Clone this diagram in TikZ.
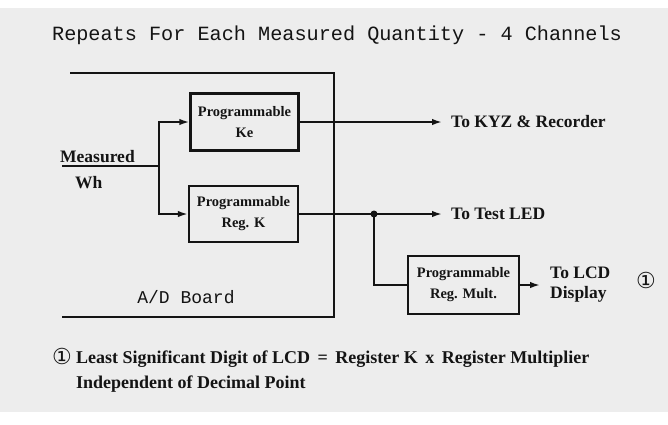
\documentclass[tikz,border=0pt]{standalone}
\usepackage{fontspec}
\setmainfont{Liberation Serif}
\newfontfamily\monofnt{Liberation Mono}
\newfontfamily\symfnt{DejaVu Sans}
\usetikzlibrary{arrows.meta}
\definecolor{paper}{RGB}{237,237,237}
\definecolor{ink}{RGB}{20,20,20}
\begin{document}
\begin{tikzpicture}[x=1pt,y=-1pt,
  every node/.style={text=ink},
  blk/.style={draw=ink, line width=2.4pt, minimum width=108pt, minimum height=57pt,
    align=center, font=\fontsize{14.5}{21}\selectfont\bfseries, inner sep=0pt},
  lbl/.style={font=\fontsize{17.5}{20}\selectfont\bfseries, inner sep=0pt},
  wire/.style={draw=ink, line width=1.8pt},
  arr/.style={wire, -{Latex[length=10pt,width=6.5pt]}},
  mono/.style={font=\monofnt\fontsize{20.2}{24}\selectfont, inner sep=0pt},
  circ/.style={font=\symfnt\fontsize{22}{24}\selectfont, inner sep=0pt}
]
\useasboundingbox (0,0) rectangle (668,424);
\fill[white] (0,0) rectangle (668,424);
\fill[paper] (0,8) rectangle (668,412);

% title
\node[mono] (title) at (337,35) {Repeats For Each Measured Quantity - 4 Channels};

% A/D board outline
\coordinate (b1) at (70,73);
\coordinate (b2) at (334,73);
\coordinate (b3) at (334,317);
\coordinate (b4) at (62,317);
\draw[wire] (b1) -- (b2) -- (b3) -- (b4);
\node[mono, font=\monofnt\fontsize{18}{22}\selectfont] (adb) at (186,297) {A/D Board};

% blocks
\node[blk] (ke) at (244.5,122) {Programmable\\Ke};
\node[blk, minimum width=109pt, minimum height=56pt] (regk) at (243.5,214) {Programmable\\Reg. K};
\node[blk, minimum width=111pt, minimum height=58pt] (mult) at (463.5,285) {Programmable\\Reg. Mult.};

% input
\node[lbl, anchor=base west] (meas) at (60,162) {Measured};
\node[lbl, anchor=base west] (wh) at (75,188) {Wh};
\coordinate (in) at (62,166);
\coordinate (split) at (159,166);
\draw[wire] (in) -- (split);
\draw[arr] (split) |- (ke.west);
\draw[arr] (split) |- (regk.west);

% outputs
\node[lbl, anchor=west, inner xsep=9pt] (kyz) at (442,122) {To KYZ \& Recorder};
\node[lbl, anchor=west, inner xsep=9pt] (led) at (442,214) {To Test LED};
\draw[arr] (ke.east) -- (kyz.west);
\draw[arr] (regk.east) -- (led.west);
\coordinate (dot) at (374,214);
\fill[ink] (dot) circle (3.5pt);
\draw[wire] (dot) |- (mult.west);

\node[lbl, anchor=west, inner xsep=10pt, align=left] (lcd) at (540,285) {To LCD\\Display};
\draw[arr] (mult.east) -- (lcd.west);
\node[circ] (c1) at (646,280) {①};

% footnote
\node[circ] (c2) at (62,356) {①};
\node[lbl, font=\fontsize{18}{20}\selectfont\bfseries, anchor=base west] (fn1) at (76,363) {Least Significant Digit of LCD \,=\, Register K \,x\, Register Multiplier};
\node[lbl, font=\fontsize{18}{20}\selectfont\bfseries, anchor=base west] (fn2) at (76,388) {Independent of Decimal Point};
\end{tikzpicture}
\end{document}
